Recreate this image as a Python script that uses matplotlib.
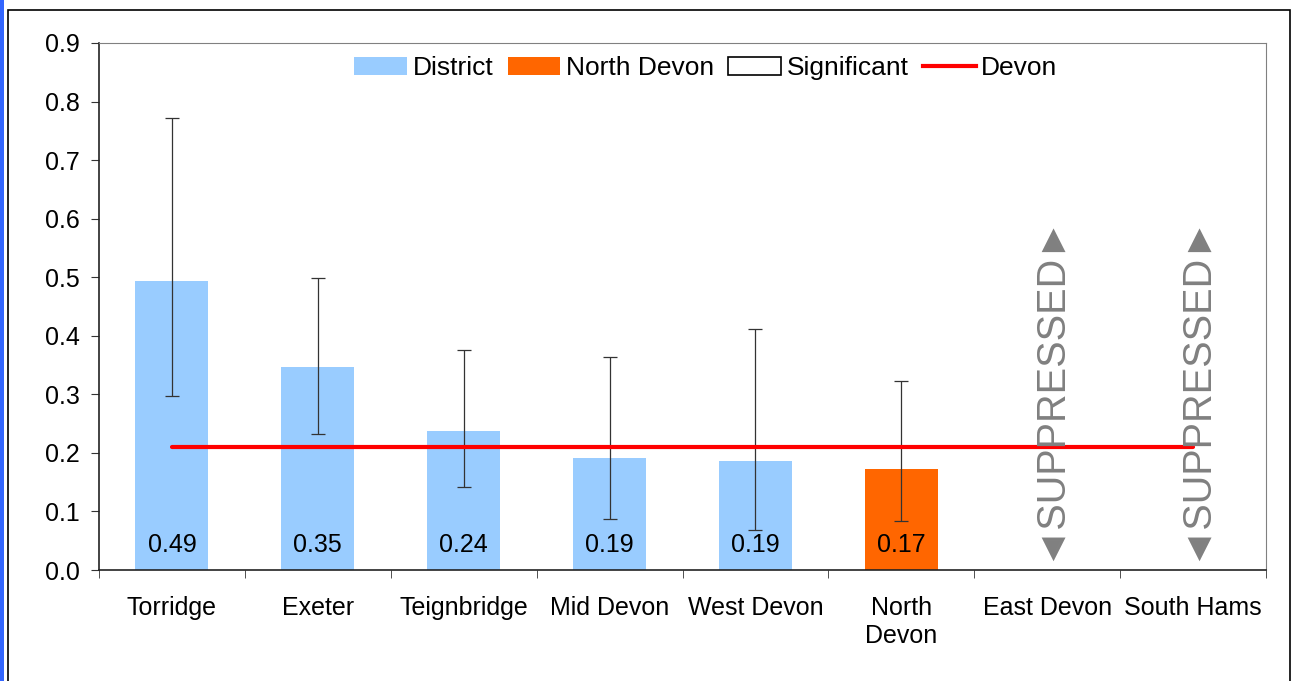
import matplotlib
matplotlib.use('Agg')
import matplotlib.pyplot as plt
from matplotlib.patches import Patch, Rectangle
from matplotlib.lines import Line2D
import numpy as np

plt.rcParams['font.family'] = ['Liberation Sans', 'DejaVu Sans']

# data
districts = ['Torridge', 'Exeter', 'Teignbridge', 'Mid Devon', 'West Devon',
             'North\nDevon', 'East Devon', 'South Hams']
values = [0.493, 0.347, 0.237, 0.191, 0.187, 0.173]
lower_ci = [0.297, 0.232, 0.142, 0.087, 0.068, 0.084]
upper_ci = [0.772, 0.499, 0.376, 0.364, 0.412, 0.323]
value_labels = ['0.49', '0.35', '0.24', '0.19', '0.19', '0.17']
suppressed = ['East Devon', 'South Hams']
devon_rate = 0.21

DISTRICT_BLUE = '#99ccff'
NORTH_DEVON_ORANGE = '#ff6600'

fig = plt.figure(figsize=(12.96, 6.81), dpi=100)
ax = fig.add_axes([99 / 1296, 1 - 570 / 681, (1266 - 99) / 1296, (570 - 43) / 681])

# outer chart frame
fig.patches.append(Rectangle((8 / 1296, -0.05), (1290 - 8) / 1296, 1 - 10 / 681 + 0.05,
                             transform=fig.transFigure, fill=False, edgecolor='black', lw=1.2))
fig.patches.append(Rectangle((0, 0), 4 / 1296, 1, transform=fig.transFigure,
                             facecolor='#3366ff', edgecolor='none'))

x = np.arange(len(districts))
n = len(values)
colors = [NORTH_DEVON_ORANGE if d.startswith('North') else DISTRICT_BLUE for d in districts[:n]]
ax.bar(x[:n], values, width=0.5, color=colors, zorder=2)

yerr = [np.array(values) - np.array(lower_ci), np.array(upper_ci) - np.array(values)]
ax.errorbar(x[:n], values, yerr=yerr, fmt='none', ecolor='#333333', elinewidth=0.9,
            capsize=5, capthick=0.9, zorder=3)

for xi, lab in zip(x[:n], value_labels):
    ax.text(xi, 0.042, lab, ha='center', va='center', fontsize=18, zorder=4)

ax.plot([x[0], x[-1]], [devon_rate, devon_rate], color='#ff0000', lw=3, zorder=5,
        solid_capstyle='round')

for i, name in enumerate(districts):
    if name in suppressed:
        ax.text(x[i], 0.313, '\u25c4SUPPRESSED\u25ba', rotation=90, ha='center', va='center',
                fontsize=28.5, color='#808080', zorder=6)

ax.set_xlim(-0.5, len(districts) - 0.5)
ax.set_ylim(0, 0.9)
ax.set_yticks(np.arange(0, 0.91, 0.1))
ax.set_yticklabels([f'{v:.1f}' for v in np.arange(0, 0.91, 0.1)], fontsize=18)
ax.set_xticks(x)
ax.set_xticklabels(districts, fontsize=18)
ax.set_xticks(np.arange(-0.5, len(districts), 1), minor=True)
ax.tick_params(axis='x', which='major', length=0, pad=19)
ax.tick_params(axis='x', which='minor', length=6, direction='out', color='#333333')
ax.tick_params(axis='y', length=6, direction='out', color='#333333', pad=8)

for side in ['top', 'right']:
    ax.spines[side].set_color('#808080')
for side in ['left', 'bottom']:
    ax.spines[side].set_color('#222222')
    ax.spines[side].set_linewidth(1.2)

handles = [Patch(facecolor=DISTRICT_BLUE, edgecolor='none', label='District'),
           Patch(facecolor=NORTH_DEVON_ORANGE, edgecolor='none', label='North Devon'),
           Patch(facecolor='white', edgecolor='black', lw=1.2, label='Significant'),
           Line2D([0], [0], color='#ff0000', lw=3, label='Devon')]
ax.legend(handles=handles, loc='upper center', bbox_to_anchor=(0.52, 1.0), ncol=4,
          frameon=False, fontsize=19, handlelength=2.0, handletextpad=0.2,
          columnspacing=0.55, borderaxespad=0.1)

fig.savefig('out.png', dpi=100)
